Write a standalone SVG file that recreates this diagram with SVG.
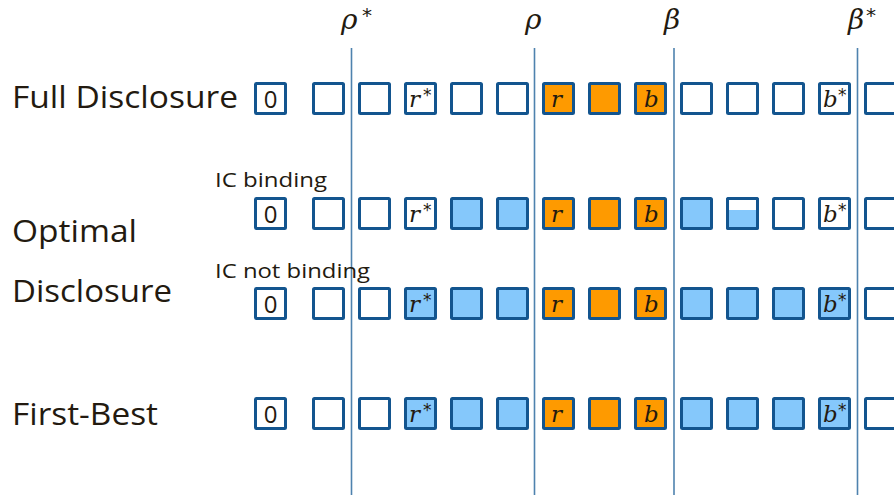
<svg xmlns="http://www.w3.org/2000/svg" width="894" height="498" viewBox="0 0 894 498">
  <style>
    .bx { stroke: #13558f; stroke-width: 3; fill: #ffffff; }
    .bl { fill: #85c8fb; }
    .or { fill: #fe9a00; }
    .div { stroke: #4e82ae; stroke-width: 1.6; fill: none; }
    .lab { font-family: "Open Sans", "Noto Sans", sans-serif; fill: #231a10; }
    .big { font-size: 31px; }
    .small { font-size: 20px; }
    .num { font-family: "Open Sans", "Noto Sans", sans-serif; font-size: 24px; fill: #231a10; text-anchor: middle; }
    .var { font-family: "DejaVu Serif", "Liberation Serif", serif; font-style: italic; font-size: 23px; fill: #231a10; }
    .star { font-family: "DejaVu Sans", "Liberation Sans", sans-serif; font-size: 17px; fill: #231a10; }
    .greek { font-family: "DejaVu Serif", "Liberation Serif", serif; font-style: italic; font-size: 28px; fill: #231a10; }
    .gstar { font-family: "DejaVu Sans", "Liberation Sans", sans-serif; font-size: 20px; fill: #231a10; }
  </style>
  <defs>
    <rect id="cell" x="1.5" y="1.5" width="30" height="30" rx="1"/>
  </defs>
  <rect width="894" height="498" fill="#ffffff"/>

  <!-- threshold markers -->
  <g id="connectors">
    <line class="div" x1="351.5" y1="48" x2="351.5" y2="495"/>
    <line class="div" x1="534.5" y1="48" x2="534.5" y2="495"/>
    <line class="div" x1="674" y1="48" x2="674" y2="495"/>
    <line class="div" x1="857.5" y1="48" x2="857.5" y2="495"/>
  </g>
  <g id="threshold-labels">
    <text class="greek" x="341" y="29">ρ</text><text class="gstar" x="362" y="22">*</text>
    <text class="greek" x="525" y="29">ρ</text>
    <text class="greek" x="664" y="29">β</text>
    <text class="greek" x="848" y="29">β</text><text class="gstar" x="866" y="22">*</text>
  </g>

  <!-- row labels -->
  <g id="row-labels">
    <text class="lab big" x="12" y="108" textLength="226" lengthAdjust="spacingAndGlyphs">Full Disclosure</text>
    <text class="lab big" x="12" y="242" textLength="125" lengthAdjust="spacingAndGlyphs">Optimal</text>
    <text class="lab big" x="12" y="302" textLength="160" lengthAdjust="spacingAndGlyphs">Disclosure</text>
    <text class="lab big" x="12" y="425" textLength="146" lengthAdjust="spacingAndGlyphs">First-Best</text>
    <text class="lab small" x="215" y="187" textLength="112" lengthAdjust="spacingAndGlyphs">IC binding</text>
    <text class="lab small" x="215" y="278" textLength="155" lengthAdjust="spacingAndGlyphs">IC not binding</text>
  </g>

  <!-- Row 1: Full Disclosure -->
  <g id="row-full" transform="translate(0,82)">
    <g id="full-0" transform="translate(254,0)"><use href="#cell" class="bx"/><text class="num" x="16.5" y="26">0</text></g>
    <g id="full-1" transform="translate(312,0)"><use href="#cell" class="bx"/></g>
    <g id="full-2" transform="translate(358,0)"><use href="#cell" class="bx"/></g>
    <g id="full-3" transform="translate(404,0)"><use href="#cell" class="bx"/><text class="var" x="5" y="25">r</text><text class="star" x="19" y="19">*</text></g>
    <g id="full-4" transform="translate(450,0)"><use href="#cell" class="bx"/></g>
    <g id="full-5" transform="translate(496,0)"><use href="#cell" class="bx"/></g>
    <g id="full-6" transform="translate(542,0)"><use href="#cell" class="bx or"/><text class="var" x="9" y="25">r</text></g>
    <g id="full-7" transform="translate(588,0)"><use href="#cell" class="bx or"/></g>
    <g id="full-8" transform="translate(634,0)"><use href="#cell" class="bx or"/><text class="var" x="10" y="25">b</text></g>
    <g id="full-9" transform="translate(680,0)"><use href="#cell" class="bx"/></g>
    <g id="full-10" transform="translate(726,0)"><use href="#cell" class="bx"/></g>
    <g id="full-11" transform="translate(772,0)"><use href="#cell" class="bx"/></g>
    <g id="full-12" transform="translate(818,0)"><use href="#cell" class="bx"/><text class="var" x="5" y="25">b</text><text class="star" x="20" y="19">*</text></g>
    <g id="full-13" transform="translate(864,0)"><use href="#cell" class="bx"/></g>
  </g>

  <!-- Row 2: Optimal, IC binding -->
  <g id="row-binding" transform="translate(0,197)">
    <g id="bind-0" transform="translate(254,0)"><use href="#cell" class="bx"/><text class="num" x="16.5" y="26">0</text></g>
    <g id="bind-1" transform="translate(312,0)"><use href="#cell" class="bx"/></g>
    <g id="bind-2" transform="translate(358,0)"><use href="#cell" class="bx"/></g>
    <g id="bind-3" transform="translate(404,0)"><use href="#cell" class="bx"/><text class="var" x="5" y="25">r</text><text class="star" x="19" y="19">*</text></g>
    <g id="bind-4" transform="translate(450,0)"><use href="#cell" class="bx bl"/></g>
    <g id="bind-5" transform="translate(496,0)"><use href="#cell" class="bx bl"/></g>
    <g id="bind-6" transform="translate(542,0)"><use href="#cell" class="bx or"/><text class="var" x="9" y="25">r</text></g>
    <g id="bind-7" transform="translate(588,0)"><use href="#cell" class="bx or"/></g>
    <g id="bind-8" transform="translate(634,0)"><use href="#cell" class="bx or"/><text class="var" x="10" y="25">b</text></g>
    <g id="bind-9" transform="translate(680,0)"><use href="#cell" class="bx bl"/></g>
    <g id="bind-10" transform="translate(726,0)">
      <use href="#cell" class="bx"/>
      <rect class="bl" x="3" y="13" width="27" height="17"/>
      <rect x="1.5" y="1.5" width="30" height="30" rx="1" fill="none" stroke="#13558f" stroke-width="3"/>
    </g>
    <g id="bind-11" transform="translate(772,0)"><use href="#cell" class="bx"/></g>
    <g id="bind-12" transform="translate(818,0)"><use href="#cell" class="bx"/><text class="var" x="5" y="25">b</text><text class="star" x="20" y="19">*</text></g>
    <g id="bind-13" transform="translate(864,0)"><use href="#cell" class="bx"/></g>
  </g>

  <!-- Row 3: Optimal, IC not binding -->
  <g id="row-notbinding" transform="translate(0,287)">
    <g id="nb-0" transform="translate(254,0)"><use href="#cell" class="bx"/><text class="num" x="16.5" y="26">0</text></g>
    <g id="nb-1" transform="translate(312,0)"><use href="#cell" class="bx"/></g>
    <g id="nb-2" transform="translate(358,0)"><use href="#cell" class="bx"/></g>
    <g id="nb-3" transform="translate(404,0)"><use href="#cell" class="bx bl"/><text class="var" x="5" y="25">r</text><text class="star" x="19" y="19">*</text></g>
    <g id="nb-4" transform="translate(450,0)"><use href="#cell" class="bx bl"/></g>
    <g id="nb-5" transform="translate(496,0)"><use href="#cell" class="bx bl"/></g>
    <g id="nb-6" transform="translate(542,0)"><use href="#cell" class="bx or"/><text class="var" x="9" y="25">r</text></g>
    <g id="nb-7" transform="translate(588,0)"><use href="#cell" class="bx or"/></g>
    <g id="nb-8" transform="translate(634,0)"><use href="#cell" class="bx or"/><text class="var" x="10" y="25">b</text></g>
    <g id="nb-9" transform="translate(680,0)"><use href="#cell" class="bx bl"/></g>
    <g id="nb-10" transform="translate(726,0)"><use href="#cell" class="bx bl"/></g>
    <g id="nb-11" transform="translate(772,0)"><use href="#cell" class="bx bl"/></g>
    <g id="nb-12" transform="translate(818,0)"><use href="#cell" class="bx bl"/><text class="var" x="5" y="25">b</text><text class="star" x="20" y="19">*</text></g>
    <g id="nb-13" transform="translate(864,0)"><use href="#cell" class="bx"/></g>
  </g>

  <!-- Row 4: First-Best -->
  <g id="row-firstbest" transform="translate(0,397)">
    <g id="fb-0" transform="translate(254,0)"><use href="#cell" class="bx"/><text class="num" x="16.5" y="26">0</text></g>
    <g id="fb-1" transform="translate(312,0)"><use href="#cell" class="bx"/></g>
    <g id="fb-2" transform="translate(358,0)"><use href="#cell" class="bx"/></g>
    <g id="fb-3" transform="translate(404,0)"><use href="#cell" class="bx bl"/><text class="var" x="5" y="25">r</text><text class="star" x="19" y="19">*</text></g>
    <g id="fb-4" transform="translate(450,0)"><use href="#cell" class="bx bl"/></g>
    <g id="fb-5" transform="translate(496,0)"><use href="#cell" class="bx bl"/></g>
    <g id="fb-6" transform="translate(542,0)"><use href="#cell" class="bx or"/><text class="var" x="9" y="25">r</text></g>
    <g id="fb-7" transform="translate(588,0)"><use href="#cell" class="bx or"/></g>
    <g id="fb-8" transform="translate(634,0)"><use href="#cell" class="bx or"/><text class="var" x="10" y="25">b</text></g>
    <g id="fb-9" transform="translate(680,0)"><use href="#cell" class="bx bl"/></g>
    <g id="fb-10" transform="translate(726,0)"><use href="#cell" class="bx bl"/></g>
    <g id="fb-11" transform="translate(772,0)"><use href="#cell" class="bx bl"/></g>
    <g id="fb-12" transform="translate(818,0)"><use href="#cell" class="bx bl"/><text class="var" x="5" y="25">b</text><text class="star" x="20" y="19">*</text></g>
    <g id="fb-13" transform="translate(864,0)"><use href="#cell" class="bx"/></g>
  </g>
</svg>
